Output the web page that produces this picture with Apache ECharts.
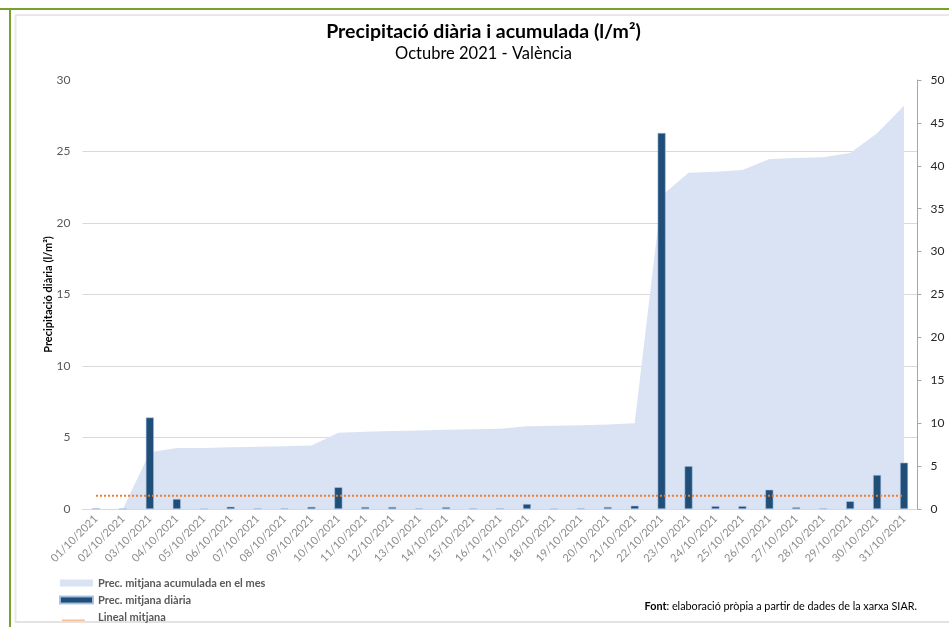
<!DOCTYPE html>
<html>
<head>
<meta charset="utf-8">
<title>Precipitació diària i acumulada</title>
<script src="https://cdn.jsdelivr.net/npm/echarts@6/dist/echarts.min.js"></script>
<style>
  html, body { margin: 0; padding: 0; background: #fff; }
  #chart { width: 949px; height: 627px; }
</style>
</head>
<body>
<div id="chart"></div>
<script>
// dades llegides del gràfic
const dies = ['01/10/2021', '02/10/2021', '03/10/2021', '04/10/2021', '05/10/2021', '06/10/2021',
  '07/10/2021', '08/10/2021', '09/10/2021', '10/10/2021', '11/10/2021', '12/10/2021', '13/10/2021',
  '14/10/2021', '15/10/2021', '16/10/2021', '17/10/2021', '18/10/2021', '19/10/2021', '20/10/2021',
  '21/10/2021', '22/10/2021', '23/10/2021', '24/10/2021', '25/10/2021', '26/10/2021', '27/10/2021',
  '28/10/2021', '29/10/2021', '30/10/2021', '31/10/2021'];
const diaria = [0.05, 0.02, 6.4, 0.7, 0.02, 0.16, 0.05, 0.05, 0.15, 1.52, 0.14, 0.14, 0.05, 0.13, 0.05,
  0.05, 0.35, 0.02, 0.05, 0.14, 0.23, 26.3, 3.0, 0.2, 0.2, 1.35, 0.12, 0.05, 0.54, 2.38, 3.24];
const acumulada = [0, 0, 6.6, 7.1, 7.1, 7.2, 7.25, 7.3, 7.4, 8.9, 9.0, 9.1, 9.15, 9.25, 9.3, 9.35,
  9.65, 9.7, 9.75, 9.85, 10.0, 36.5, 39.2, 39.3, 39.5, 40.8, 40.9, 41.0, 41.5, 43.8, 47.0];
const mitjana = 1.54;

const chart = echarts.init(document.getElementById('chart'), null, { renderer: 'canvas' });
const font = 'Lato, "Open Sans", sans-serif';

chart.setOption({
  animation: false,
  textStyle: { fontFamily: font },
  grid: { left: 82.5, right: 31.5, top: 80, bottom: 118 },
  legend: {
    orient: 'vertical',
    left: 59,
    top: 576,
    height: 60,
    padding: 0,
    itemWidth: 33,
    itemHeight: 7,
    itemGap: 3,
    textStyle: { fontSize: 11, fontWeight: 'bold', color: '#595959', lineHeight: 14, fontFamily: font },
    data: [
      { name: 'Prec. mitjana acumulada en el mes', icon: 'rect' },
      { name: 'Prec. mitjana diària', icon: 'rect' },
      { name: 'Lineal mitjana', icon: 'path://M0,0L0.1,0L0.1,0.1Z M33,0L33.1,0L33.1,0.1Z M0,7L26,7L26,8L0,8Z' }
    ]
  },
  xAxis: {
    type: 'category',
    data: dies,
    boundaryGap: true,
    axisLine: { lineStyle: { color: '#d9d9d9' } },
    axisTick: { show: false },
    axisLabel: { rotate: 45, fontSize: 11, color: '#8c8c8c', margin: 8, interval: 0 }
  },
  yAxis: [
    {
      type: 'value',
      min: 0, max: 30, interval: 5,
      name: 'Precipitació diària (l/m²)',
      nameLocation: 'middle',
      nameGap: 29,
      nameMoveOverlap: false,
      nameTextStyle: { fontSize: 11, fontWeight: 'bold', color: '#000' },
      axisLine: { show: false },
      axisTick: { show: false },
      axisLabel: { fontSize: 12, color: '#595959', margin: 12 },
      splitLine: {
        lineStyle: {
          color: ['#d9d9d9', '#d9d9d9', '#d9d9d9', '#d9d9d9', '#d9d9d9', '#d9d9d9', 'rgba(0,0,0,0)']
        }
      }
    },
    {
      type: 'value',
      position: 'right',
      min: 0, max: 50, interval: 5,
      axisLine: { show: true, lineStyle: { color: '#a6a6a6' } },
      axisTick: { show: true, inside: false, length: 4, lineStyle: { color: '#a6a6a6' } },
      axisLabel: { fontSize: 12, color: '#262626', margin: 13 },
      splitLine: { show: false }
    }
  ],
  series: [
    {
      name: 'Prec. mitjana acumulada en el mes',
      type: 'line',
      yAxisIndex: 1,
      data: acumulada,
      symbol: 'none',
      lineStyle: { width: 0 },
      itemStyle: { color: '#dae3f3' },
      areaStyle: { color: '#dae3f3', opacity: 1 },
      z: 1
    },
    {
      name: 'Prec. mitjana diària',
      type: 'bar',
      yAxisIndex: 0,
      data: diaria,
      barWidth: 8,
      itemStyle: { color: '#1f4e79', borderColor: 'rgba(170,192,225,0.9)', borderWidth: 0.6 },
      z: 2
    },
    {
      name: 'Lineal mitjana',
      type: 'line',
      yAxisIndex: 1,
      data: dies.map(() => mitjana),
      symbol: 'none',
      itemStyle: { color: '#ed7d31' },
      lineStyle: { color: '#ed7d31', width: 2, type: [2, 2] },
      z: 3
    }
  ],
  graphic: [
    { type: 'line', shape: { x1: 0, y1: 9, x2: 949, y2: 9 }, style: { stroke: '#77a22b', lineWidth: 2 } },
    { type: 'line', shape: { x1: 10, y1: 8, x2: 10, y2: 627 }, style: { stroke: '#77a22b', lineWidth: 2 } },
    { type: 'line', shape: { x1: 15.5, y1: 15, x2: 949, y2: 15 }, style: { stroke: '#e8e8e8', lineWidth: 2 } },
    { type: 'line', shape: { x1: 15.5, y1: 15, x2: 15.5, y2: 622 }, style: { stroke: '#e8e8e8', lineWidth: 2 } },
    { type: 'line', shape: { x1: 15, y1: 622, x2: 949, y2: 622 }, style: { stroke: '#e3e3e3', lineWidth: 2 } },
    {
      type: 'text', x: 483.5, y: 32,
      style: {
        text: 'Precipitació diària i acumulada (l/m²)',
        font: 'bold 19.5px ' + font, fill: '#000', align: 'center', verticalAlign: 'middle'
      }
    },
    {
      type: 'text', x: 483.5, y: 54,
      style: {
        text: 'Octubre 2021 - València',
        font: '16.5px ' + font, fill: '#000', align: 'center', verticalAlign: 'middle'
      }
    },
    {
      type: 'text', x: 917, y: 607,
      style: {
        text: '{b|Font}: elaboració pròpia a partir de dades de la xarxa SIAR.',
        font: '10.8px ' + font, fill: '#000', align: 'right', verticalAlign: 'middle',
        rich: { b: { fontWeight: 'bold', fontSize: 10.8, fontFamily: font, fill: '#000' } }
      }
    }
  ]
});
</script>
</body>
</html>
